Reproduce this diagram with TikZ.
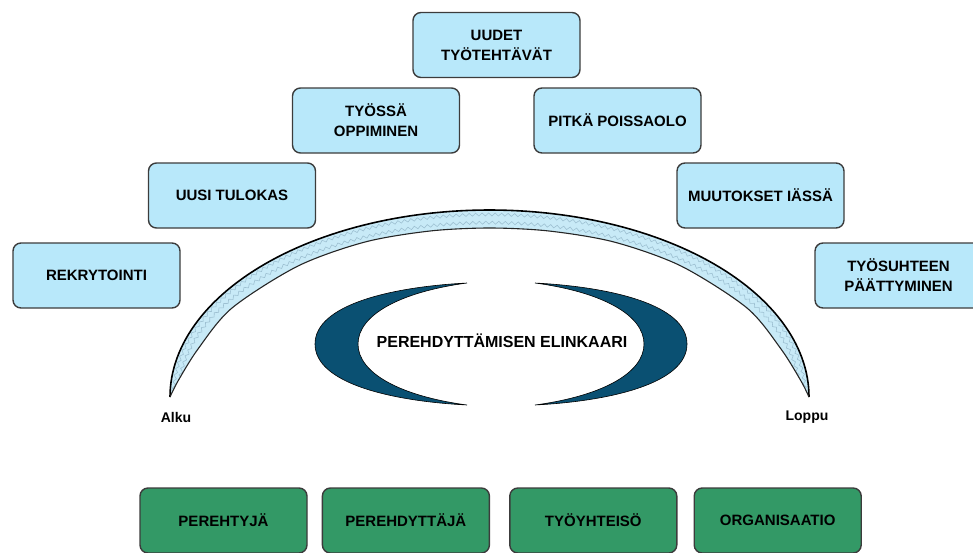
\documentclass[tikz,border=0pt]{standalone}
\usepackage{fontspec}
\setmainfont{Liberation Sans}
\usetikzlibrary{positioning, decorations.pathmorphing}
\definecolor{colorStage}{HTML}{B8E8FA}
\definecolor{colorActor}{HTML}{339966}
\definecolor{colorArc}{HTML}{C8EAF7}
\definecolor{colorWave}{HTML}{9DC0D2}
\definecolor{colorMoon}{HTML}{0A5072}
\definecolor{colorEdge}{HTML}{3C3C3C}
\tikzset{
  stagebox/.style={draw=colorEdge, line width=1.4pt, rounded corners=8pt, fill=colorStage,
    minimum width=167pt, minimum height=65pt, align=center, inner sep=2pt,
    font=\fontsize{15}{20}\selectfont\bfseries},
  actorbox/.style={stagebox, fill=colorActor},
  endlabel/.style={font=\fontsize{14}{16}\selectfont\bfseries},
  outerarc/.style={insert path={plot[domain=180:0, samples=120] ({489.5+319.5*cos(\x)},{397-187*sin(\x)})}},
  innerarc/.style={insert path={-- plot[smooth] coordinates {(809,397) (801,381) (781,349) (747,308) (681,266)
    (614,242) (549,231) (489.5,228) (430,231) (365,242) (298,266) (232,308) (198,349) (178,381) (170,397)}}},
}

\begin{document}
\begin{tikzpicture}[x=1pt, y=-1pt]
\useasboundingbox (0,0) rectangle (973,552);

% arc of the life cycle
\path[fill=colorArc, outerarc, innerarc] -- cycle;
\begin{scope}
\clip[outerarc, innerarc] -- cycle;
\foreach \rx/\ry in {316/181, 311/173}
  \draw[colorWave, line width=0.6pt, decorate, decoration={snake, amplitude=1.5pt, segment length=6.5pt}]
    plot[domain=182:-2, samples=120] ({489.5+\rx*cos(\x)},{397-\ry*sin(\x)});
\end{scope}
\draw[black, line width=1.6pt, outerarc];
\draw[black!85, line width=1.1pt] plot[smooth] coordinates {(809,397) (801,381) (781,349) (747,308) (681,266)
    (614,242) (549,231) (489.5,228) (430,231) (365,242) (298,266) (232,308) (198,349) (178,381) (170,397)};

% the two crescents
\filldraw[fill=colorMoon, draw=black, line width=0.6pt]
  (467,283) .. controls (390,287) and (315,305) .. (315,344)
  .. controls (315,383) and (390,401) .. (467,405)
  .. controls (400,396) and (358,373) .. (358,344)
  .. controls (358,315) and (400,292) .. (467,283) -- cycle;
\filldraw[fill=colorMoon, draw=black, line width=0.6pt]
  (535,283) .. controls (612,287) and (687,305) .. (687,344)
  .. controls (687,383) and (612,401) .. (535,405)
  .. controls (602,396) and (644,373) .. (644,344)
  .. controls (644,315) and (602,292) .. (535,283) -- cycle;
\node[font=\fontsize{16}{18}\selectfont\bfseries] (title) at (502,341) {PEREHDYTTÄMISEN ELINKAARI};

\node[endlabel] (alku) at (176,417) {Alku};
\node[endlabel] (loppu) at (807,417) {Loppu};

% stages
\node[stagebox] (rekry) at (96.5,275.5) {REKRYTOINTI};
\node[stagebox] (tulokas) at (232,195.5) {UUSI TULOKAS};
\node[stagebox] (oppiminen) at (376,120.5) {TYÖSSÄ\\OPPIMINEN};
\node[stagebox] (tehtavat) at (496.5,45) {UUDET\\TYÖTEHTÄVÄT};
\node[stagebox] (poissaolo) at (617.5,120.5) {PITKÄ POISSAOLO};
\node[stagebox] (muutokset) at (760.5,195.5) {MUUTOKSET IÄSSÄ};
\node[stagebox] (paattyminen) at (898.5,275.5) {TYÖSUHTEEN\\PÄÄTTYMINEN};

% actors
\node[actorbox] (perehtyja) at (223.5,520.5) {PEREHTYJÄ};
\node[actorbox, right=14pt of perehtyja] (perehdyttaja) {PEREHDYTTÄJÄ};
\node[actorbox, right=19pt of perehdyttaja] (tyoyhteiso) {TYÖYHTEISÖ};
\node[actorbox, right=16pt of tyoyhteiso] (organisaatio) {ORGANISAATIO};
\end{tikzpicture}
\end{document}
